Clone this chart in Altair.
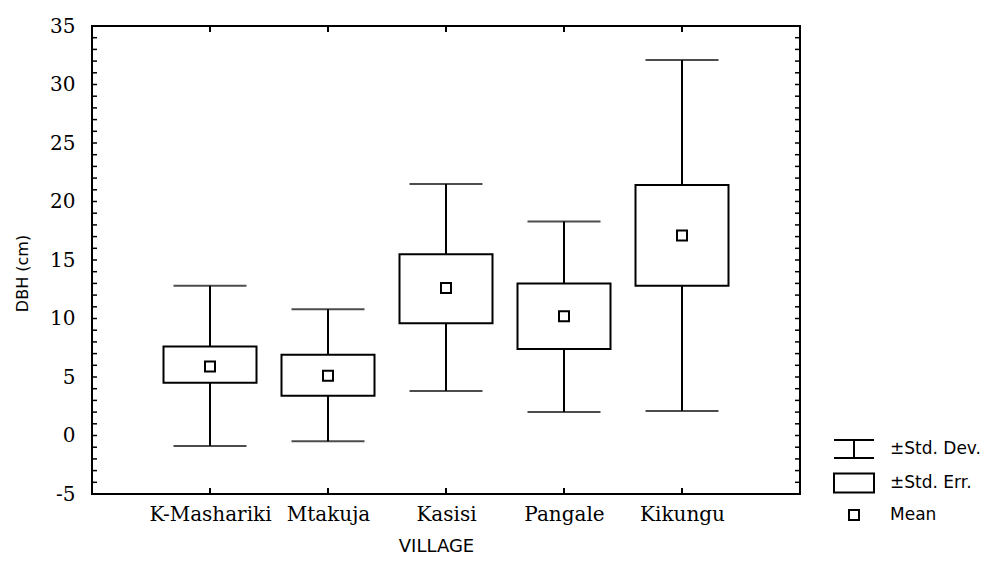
import altair as alt
import pandas as pd

villages = ["K-Mashariki", "Mtakuja", "Kasisi", "Pangale", "Kikungu"]
means = [5.9, 5.1, 12.6, 10.2, 17.1]
se_low = [4.5, 3.4, 9.6, 7.4, 12.8]
se_high = [7.6, 6.9, 15.5, 13.0, 21.4]
sd_low = [-0.9, -0.5, 3.8, 2.0, 2.1]
sd_high = [12.8, 10.8, 21.5, 18.3, 32.1]

y_major = [-5, 0, 5, 10, 15, 20, 25, 30, 35]
y_minor = list(range(-5, 36))
legend_items = ["±Std. Dev.", "±Std. Err.", "Mean"]

df = pd.DataFrame({
    "village": villages, "mean": means,
    "se_low": se_low, "se_high": se_high,
    "sd_low": sd_low, "sd_high": sd_high,
})
ticks_df = pd.DataFrame({"v": y_minor})
leg_df = pd.DataFrame({"item": legend_items})

W, H = 708, 468
xscale = alt.Scale(domain=villages, type="point", padding=1)
yscale = alt.Scale(domain=[-5, 35], nice=False, zero=False)

serif = "DejaVu Serif"
sans = "DejaVu Sans"

xaxis = alt.Axis(title="VILLAGE", labelAngle=0, ticks=False, domain=False, grid=False,
                 labelFont=serif, labelFontSize=20, labelColor="black", labelPadding=10,
                 titleFont=sans, titleFontSize=18, titleFontWeight="normal", titleColor="black",
                 titleX=344, titleY=52, titleAnchor="start", titleAlign="center",
                 titleBaseline="middle")
yaxis = alt.Axis(title="DBH (cm)", values=y_major, ticks=False, domain=False, grid=False,
                 labelExpr="'' + datum.value",
                 labelFont=serif, labelFontSize=20, labelColor="black", labelPadding=17,
                 titleFont=sans, titleFontSize=16, titleFontWeight="normal", titleColor="black",
                 titleX=-70, titleY=247, titleAngle=270, titleAlign="center",
                 titleBaseline="middle")

X = alt.X("village:N", scale=xscale, sort=villages, axis=xaxis)


def Y(field):
    return alt.Y(field, scale=yscale, axis=yaxis)


base = alt.Chart(df)

whisk = base.mark_rule(color="black", strokeWidth=2).encode(
    x=X, y=Y("sd_low:Q"), y2="sd_high:Q")
caps_low = base.mark_tick(color="black", size=73, thickness=2, orient="horizontal").encode(
    x=X, y=Y("sd_low:Q"))
caps_high = base.mark_tick(color="black", size=73, thickness=2, orient="horizontal").encode(
    x=X, y=Y("sd_high:Q"))
boxes = base.mark_bar(fill="white", stroke="black", strokeWidth=2, size=93).encode(
    x=X, y=Y("se_low:Q"), y2="se_high:Q")
mean_pts = base.mark_point(shape="square", size=100, filled=False, fill="white",
                           color="black", strokeWidth=2, opacity=1).encode(
    x=X, y=Y("mean:Q"))

tk = alt.Chart(ticks_df)
left_ticks = tk.mark_rule(color="black", strokeWidth=1.5).encode(
    y=Y("v:Q"), x=alt.value(0), x2=alt.value(5))
right_ticks = tk.mark_rule(color="black", strokeWidth=1.5).encode(
    y=Y("v:Q"), x=alt.value(W - 5), x2=alt.value(W))
top_ticks = base.mark_rule(color="black", strokeWidth=2).encode(
    x=X, y=alt.value(0), y2=alt.value(6))
bot_ticks = base.mark_rule(color="black", strokeWidth=2).encode(
    x=X, y=alt.value(H - 6), y2=alt.value(H))

paths = [
    "M-2,-0.9H2M0,-0.9V0.9M-2,0.9H2",
    "M-2,-0.95H2V0.95H-2Z",
    "M-0.5,-0.5H0.5V0.5H-0.5Z",
]
legend_layer = alt.Chart(leg_df).mark_point(opacity=0, color="black", filled=False).encode(
    shape=alt.Shape("item:N", scale=alt.Scale(domain=legend_items, range=paths),
                    legend=alt.Legend(title=None, orient="none", legendX=751, legendY=412,
                                      symbolSize=400, symbolStrokeWidth=2, symbolStrokeColor="black",
                                      symbolFillColor="transparent", symbolOpacity=1,
                                      labelFont=sans, labelFontSize=17, labelColor="black",
                                      labelOffset=25, rowPadding=7, padding=0))
)

chart = alt.layer(
    whisk, caps_low, caps_high, boxes, mean_pts,
    left_ticks, right_ticks, top_ticks, bot_ticks, legend_layer
).properties(
    width=W, height=H,
    background="white",
    autosize=alt.AutoSizeParams(type="none"),
    padding={"left": 84, "top": 18, "right": 188, "bottom": 64},
).configure_view(
    stroke="black", strokeWidth=2
)

chart.save("out.html", embed_options={"renderer": "svg", "actions": False})
